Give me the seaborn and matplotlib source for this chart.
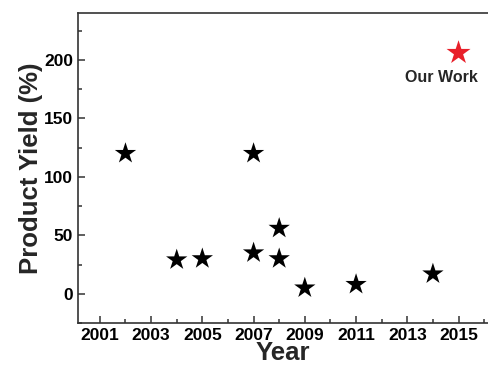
import numpy as np
import pandas as pd
import matplotlib
matplotlib.use("Agg")
import matplotlib.pyplot as plt
import seaborn as sns
from matplotlib.ticker import MultipleLocator

# dados
anos = [2002, 2004, 2005, 2007, 2007, 2008, 2008, 2009, 2011, 2014]
rendimento = [120, 29, 30, 120, 35, 56, 30, 5, 8, 17]
ano_nosso = [2015]
rendimento_nosso = [206]

dados = pd.DataFrame({"Year": anos, "Yield": rendimento})
nosso = pd.DataFrame({"Year": ano_nosso, "Yield": rendimento_nosso})

sns.set_style("ticks")
plt.rcParams['font.family'] = ['Liberation Sans', 'DejaVu Sans']
plt.rcParams['font.weight'] = 'bold'

fig = plt.figure(figsize=(4.88, 3.73), dpi=100)
ax = fig.add_axes([0.16, 0.134, 0.84, 0.831])

sns.scatterplot(data=dados, x="Year", y="Yield", marker="*", s=260,
                color="black", edgecolor="none", ax=ax)
sns.scatterplot(data=nosso, x="Year", y="Yield", marker="*", s=330,
                color="#e8202a", edgecolor="none", ax=ax)
# rótulo um pouco à esquerda da estrela
ax.text(ano_nosso[0] - 0.65, 185, "Our Work", ha="center", va="center",
        fontsize=11.5, fontweight="bold")

ax.set_xlim(2000.15, 2016.15)
ax.set_ylim(-25, 240)
ax.xaxis.set_minor_locator(MultipleLocator(1))
ax.set_xticks(np.arange(2001, 2016, 2))
ax.yaxis.set_minor_locator(MultipleLocator(25))
ax.set_yticks([0, 50, 100, 150, 200])

ax.tick_params(which="both", direction="in", width=1.1, labelsize=12.5,
               colors="#333333", labelcolor="black")
ax.tick_params(which="major", length=5)
ax.tick_params(which="minor", length=3)
for lab in ax.get_xticklabels() + ax.get_yticklabels():
    lab.set_fontweight("bold")

ax.spines["right"].set_visible(False)
for sp in ["left", "top", "bottom"]:
    ax.spines[sp].set_linewidth(1.2)
    ax.spines[sp].set_color("#333333")

ax.set_xlabel("Year", fontsize=18.5, fontweight="bold", labelpad=-1)
ax.set_ylabel("Product Yield (%)", fontsize=18.5, fontweight="bold", labelpad=1)

fig.savefig("out.png", dpi=100)
